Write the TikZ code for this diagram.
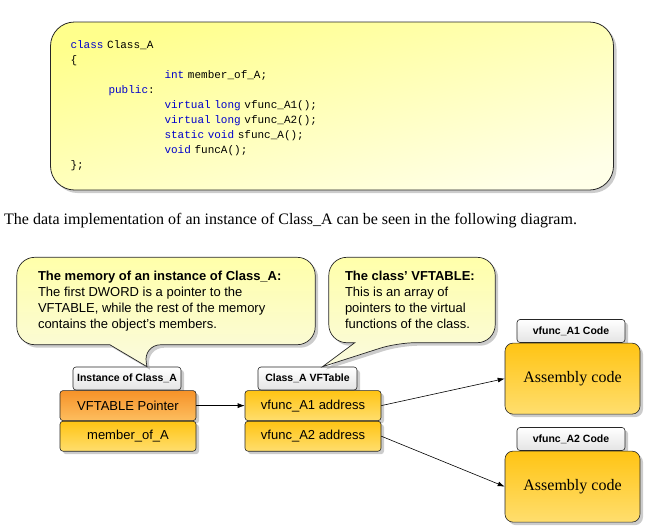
\documentclass[tikz,border=0pt]{standalone}
\usepackage{fontspec}
\setmainfont{Liberation Serif}
\setsansfont{Liberation Sans}
\setmonofont{Liberation Mono}
\usetikzlibrary{positioning,shadows,arrows.meta}

\definecolor{codeblue}{RGB}{0,0,204}
\definecolor{codetop}{RGB}{255,255,140}
\definecolor{codebot}{RGB}{255,255,232}
\definecolor{calltop}{RGB}{255,255,170}
\definecolor{callbot}{RGB}{250,250,222}
\definecolor{ptrtop}{RGB}{246,146,40}
\definecolor{ptrbot}{RGB}{253,190,95}
\definecolor{celltop}{RGB}{255,196,20}
\definecolor{cellbot}{RGB}{255,222,110}
\definecolor{tabbot}{RGB}{228,228,228}

\newcommand{\kw}[1]{\textcolor{codeblue}{#1}}

\tikzset{
  shade/.style={drop shadow={shadow xshift=3pt, shadow yshift=-3pt, fill=black!40}},
  codebox/.style={shade, draw=black!85, line width=0.8pt, rounded corners=24pt,
    top color=codetop, bottom color=codebot, shading angle=15,
    font=\ttfamily\fontsize{11}{15}\selectfont, align=left,
    text width=523pt, inner xsep=20pt, minimum height=168pt},
  notetext/.style={font=\sffamily\fontsize{13}{16}\selectfont, align=left, inner sep=0pt},
  callshape/.style={shade, draw=black!85, line width=0.7pt,
    top color=calltop, bottom color=callbot},
  tabbox/.style={shade, draw=black!85, line width=0.6pt, rounded corners=3pt,
    top color=white, bottom color=tabbot, inner sep=0pt, minimum height=23pt,
    font=\sffamily\bfseries\fontsize{10.5}{12}\selectfont},
  cellbox/.style={shade, draw=black!85, line width=0.6pt, rounded corners=3pt,
    top color=celltop, bottom color=cellbot, minimum width=136pt, minimum height=30pt,
    inner sep=0pt, font=\sffamily\fontsize{13}{15}\selectfont},
  ptrbox/.style={cellbox, top color=ptrtop, bottom color=ptrbot},
  asmbox/.style={shade, draw=black!85, line width=0.6pt, rounded corners=8pt,
    top color=celltop, bottom color=cellbot, minimum width=135pt, minimum height=71pt,
    font=\fontsize{16}{18}\selectfont},
  link/.style={-{Latex[length=7pt,width=5pt]}, line width=0.6pt}
}

\begin{document}
\begin{tikzpicture}[x=1pt, y=-1pt]
\useasboundingbox (0,0) rectangle (663,528);

% class declaration
\node[codebox] (decl) at (332,106) {%
\kw{class} Class\_A\\
\{\\
\hspace*{94pt}\kw{int} member\_of\_A;\\
\hspace*{38pt}\kw{public}:\\
\hspace*{94pt}\kw{virtual} \kw{long} vfunc\_A1();\\
\hspace*{94pt}\kw{virtual} \kw{long} vfunc\_A2();\\
\hspace*{94pt}\kw{static} \kw{void} sfunc\_A();\\
\hspace*{94pt}\kw{void} funcA();\\
\};};

\node[anchor=west, inner sep=0pt, font=\fontsize{16}{18}\selectfont] (intro) at (4,221)
  {The data implementation of an instance of Class\_A can be seen in the following diagram.};

% instance of Class_A
\node[tabbox, minimum width=108pt] (insttab) at (127,378.5) {Instance of Class\_A};
\node[ptrbox, below=0pt of insttab, xshift=1pt] (vptr) {VFTABLE Pointer};
\node[cellbox, below=0pt of vptr] (member) {member\_of\_A};

% the vftable
\node[tabbox, minimum width=99pt] (vftab) at (307.5,378.5) {Class\_A VFTable};
\node[cellbox, below=0pt of vftab, xshift=5.5pt] (vf1) {vfunc\_A1 address};
\node[cellbox, below=0pt of vf1] (vf2) {vfunc\_A2 address};

% code of the virtual functions
\node[tabbox, minimum width=108pt] (asm1tab) at (571,331) {vfunc\_A1 Code};
\node[asmbox, below=0pt of asm1tab, xshift=1.5pt] (asm1) {Assembly code};
\node[tabbox, minimum width=108pt] (asm2tab) at (571,439) {vfunc\_A2 Code};
\node[asmbox, below=0pt of asm2tab, xshift=1.5pt] (asm2) {Assembly code};

\draw[link] (vptr) -- (vf1);
\draw[link] (vf1.east) -- (asm1.west);
\draw[link] (vf2.east) -- (asm2.west);

% callouts
\node[minimum width=298pt, minimum height=87pt] (memnote) at (166,301) {};
\coordinate (memtip) at ([xshift=20pt]insttab.north);
\path[callshape] (memnote.west) [rounded corners=18pt] -- (memnote.north west) -- (memnote.north east)
  -- (memnote.south east) -- ([xshift=-172pt]memnote.south east) [sharp corners] -- (memtip)
  -- ([xshift=93pt]memnote.south west) [rounded corners=18pt] -- (memnote.south west) -- cycle;
\node[notetext, anchor=west] (memtext) at ([xshift=21pt]memnote.west)
  {\textbf{The memory of an instance of Class\_A:}\\The first DWORD is a pointer to the\\
   VFTABLE, while the rest of the memory\\contains the object's members.};

\node[minimum width=166pt, minimum height=85pt] (vtnote) at (412,300) {};
\coordinate (vttip) at ([xshift=15pt]vftab.north);
\path[callshape] (vtnote.west) [rounded corners=18pt] -- (vtnote.north west) -- (vtnote.north east)
  -- (vtnote.south east) -- ([xshift=-98pt]vtnote.south east) [sharp corners] -- (vttip)
  -- ([xshift=26pt]vtnote.south west) [rounded corners=18pt] -- (vtnote.south west) -- cycle;
\node[notetext, anchor=west] (vttext) at ([xshift=16pt]vtnote.west)
  {\textbf{The class' VFTABLE:}\\This is an array of\\pointers to the virtual\\functions of the class.};
\end{tikzpicture}
\end{document}
